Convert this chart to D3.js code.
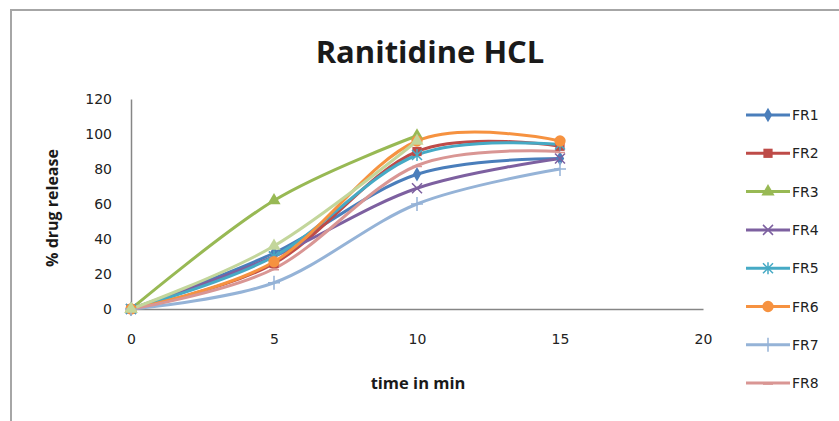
<!DOCTYPE html>
<html>
<head>
<meta charset="utf-8">
<script src="https://cdn.jsdelivr.net/npm/d3@7"></script>
<style>
  body { margin: 0; background: #fff; }
  svg { display: block; font-family: "Open Sans", "Liberation Sans", sans-serif; }
</style>
</head>
<body>
<svg width="839" height="421"></svg>
<script>
// sampling times (min)
const times = [0, 5, 10, 15];

// % drug release for each formulation
const fr1 = [0, 32, 77, 86];
const fr2 = [0, 26, 90, 93];
const fr3 = [0, 62, 99];
const fr4 = [0, 30, 69, 86];
const fr5 = [0, 30, 88, 94];
const fr6 = [0, 27, 96, 96];
const fr7 = [0, 15, 60, 80];
const fr8 = [0, 23, 82, 90];
const fr9 = [0, 36, 96];

const names = ['FR1', 'FR2', 'FR3', 'FR4', 'FR5', 'FR6', 'FR7', 'FR8', 'FR9'];
const xTicks = [0, 5, 10, 15, 20];
const yTicks = [0, 20, 40, 60, 80, 100, 120];

const colors = ['#4a7ebb', '#be4b48', '#98b954', '#7d60a0', '#46aac5', '#f69240', '#95b3d7', '#d99694', '#c3d69b'];
const symbols = ['diamond', 'square', 'triangle', 'x', 'star', 'circle', 'plus', 'dash', 'triangle'];

const series = [fr1, fr2, fr3, fr4, fr5, fr6, fr7, fr8, fr9].map((vals, i) => ({
  name: names[i],
  color: colors[i],
  symbol: symbols[i],
  points: vals.map((v, j) => ({ t: times[j], v: v }))
}));

const svg = d3.select('svg');

// outer frame of the pasted figure (runs off the right and bottom)
svg.append('path')
  .attr('d', 'M11,430 L11,10 L850,10')
  .attr('fill', 'none')
  .attr('stroke', '#a6a6a6')
  .attr('stroke-width', 2);

svg.append('text')
  .attr('x', 430)
  .attr('y', 63)
  .attr('text-anchor', 'middle')
  .attr('font-size', '31px')
  .attr('font-weight', 'bold')
  .attr('fill', '#1a1a1a')
  .text('Ranitidine HCL');

const xScale = d3.scaleLinear().domain([0, 20]).range([131, 703]),
  yScale = d3.scaleLinear().domain([0, 120]).range([309, 99]);

const tickFont = '"DejaVu Sans", sans-serif';

svg.append('g')
  .attr('transform', 'translate(0,' + yScale(0) + ')')
  .call(d3.axisBottom(xScale).tickValues(xTicks).tickSize(0).tickPadding(25))
  .call((g) => g.select('.domain').attr('stroke', '#868686').attr('stroke-width', 1.5))
  .attr('font-size', 14)
  .attr('font-family', tickFont)
  .selectAll('text')
  .attr('fill', '#222');

svg.append('g')
  .attr('transform', 'translate(' + xScale(0) + ',0)')
  .call(d3.axisLeft(yScale).tickValues(yTicks).tickSize(0).tickPadding(19))
  .call((g) => g.select('.domain').attr('stroke', '#868686').attr('stroke-width', 1.5))
  .attr('font-size', 14)
  .attr('font-family', tickFont)
  .selectAll('text')
  .attr('fill', '#222');

svg.append('text')
  .attr('x', 418)
  .attr('y', 389)
  .attr('text-anchor', 'middle')
  .attr('font-size', '16.5px')
  .attr('font-weight', 'bold')
  .attr('fill', '#1a1a1a')
  .text('time in min');

svg.append('text')
  .attr('transform', 'translate(58,208) rotate(-90)')
  .attr('text-anchor', 'middle')
  .attr('font-size', '16px')
  .attr('font-weight', 'bold')
  .attr('fill', '#1a1a1a')
  .text('% drug release');

const line = d3.line()
  .x((d) => xScale(d.t))
  .y((d) => yScale(d.v))
  .curve(d3.curveCatmullRom.alpha(0));

function drawMarker(sel, symbol, color) {
  if (symbol === 'x' || symbol === 'plus' || symbol === 'dash' || symbol === 'star') {
    let d;
    if (symbol === 'x') d = 'M-5,-5L5,5M-5,5L5,-5';
    else if (symbol === 'plus') d = 'M-6,0L6,0M0,-7L0,7';
    else if (symbol === 'dash') d = 'M-5,1L5,1';
    else d = 'M-5,-5L5,5M-5,5L5,-5M0,-6L0,6';
    sel.append('path').attr('d', d).attr('stroke', color).attr('stroke-width', 1.5).attr('fill', 'none');
  } else {
    const type = { diamond: d3.symbolDiamond, square: d3.symbolSquare, triangle: d3.symbolTriangle, circle: d3.symbolCircle }[symbol];
    const size = { diamond: 60, square: 85, triangle: 75, circle: 100 }[symbol];
    sel.append('path').attr('d', d3.symbol().type(type).size(size)()).attr('fill', color);
  }
}

const lines = svg.append('g');
series.forEach((s) => {
  lines.append('path')
    .datum(s.points)
    .attr('fill', 'none')
    .attr('stroke', s.color)
    .attr('stroke-width', 3)
    .attr('d', line);
});

series.forEach((s) => {
  s.points.forEach((p) => {
    const m = svg.append('g').attr('transform', 'translate(' + xScale(p.t) + ',' + yScale(p.v) + ')');
    drawMarker(m, s.symbol, s.color);
  });
});

// legend; the ninth entry falls below the visible frame
const legend = svg.append('g');
series.slice(0, 8).forEach((s, i) => {
  const y = 115 + i * 38.3;
  const g = legend.append('g').attr('transform', 'translate(0,' + y + ')');
  g.append('line')
    .attr('x1', 746).attr('x2', 790)
    .attr('stroke', s.color).attr('stroke-width', 3);
  const m = g.append('g').attr('transform', 'translate(768,0)');
  drawMarker(m, s.symbol, s.color);
  g.append('text')
    .attr('x', 792)
    .attr('y', 5)
    .attr('font-size', '14px')
    .attr('font-family', tickFont)
    .attr('fill', '#222')
    .text(s.name);
});
</script>
</body>
</html>
